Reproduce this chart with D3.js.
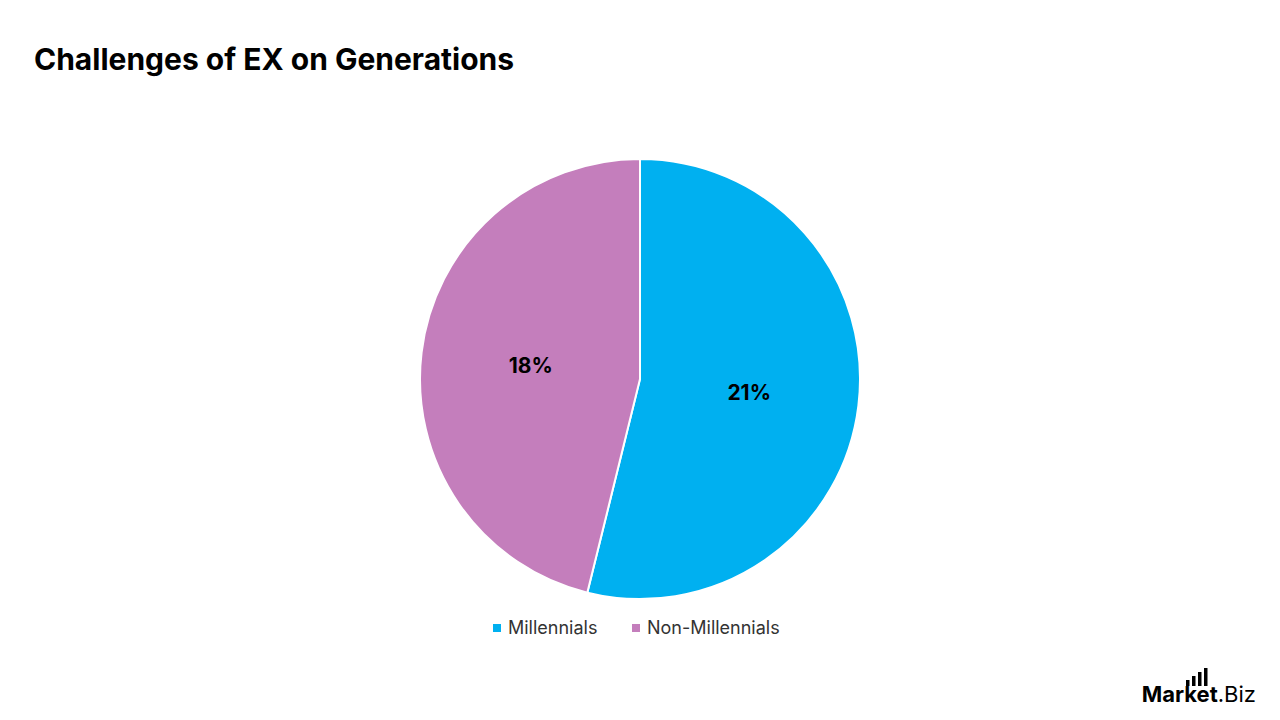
<!DOCTYPE html>
<html><head><meta charset="utf-8">
<script src="https://cdn.jsdelivr.net/npm/d3@7"></script>
<style>body{margin:0;background:#fff;font-family:Inter,"Open Sans",sans-serif}</style>
</head><body><svg id="c" width="1280" height="720"></svg>
<script>
var categories = ['Millennials', 'Non-Millennials'];
var values = [21, 18];
var colors = ['#00b0f0', '#c47ebc'];

var svg = d3.select('#c');
svg.append('text').attr('x', 34).attr('y', 70).attr('font-size', 30).attr('font-weight', 700)
  .attr('fill', '#000').text('Challenges of EX on Generations');

var cx = 640, cy = 379, r = 220;
var pie = d3.pie().sort(null)(values);
var arc = d3.arc().innerRadius(0).outerRadius(r);
var g = svg.append('g').attr('transform', 'translate(' + cx + ',' + cy + ')');
g.selectAll('path').data(pie).join('path')
  .attr('d', arc).attr('fill', function(d, i) { return colors[i]; })
  .attr('stroke', '#fff').attr('stroke-width', 2);
var total = d3.sum(values);
var labelArc = d3.arc().innerRadius(r * 0.5).outerRadius(r * 0.5);
g.selectAll('text').data(pie).join('text')
  .attr('transform', function(d) { return 'translate(' + labelArc.centroid(d) + ')'; })
  .attr('text-anchor', 'middle').attr('dy', '0.35em')
  .attr('font-size', 21).attr('font-weight', 700).attr('fill', '#000')
  .text(function(d) { return d.value + '%'; });

// legend
var lx = [493, 632];
var leg = svg.append('g').selectAll('g').data(categories).join('g')
  .attr('transform', function(d, i) { return 'translate(' + lx[i] + ',628)'; });
leg.append('rect').attr('x', 0).attr('y', -4).attr('width', 8).attr('height', 8)
  .attr('fill', function(d, i) { return colors[i]; });
leg.append('text').attr('x', 15).attr('dy', '0.35em').attr('font-size', 18).attr('fill', '#333')
  .text(function(d) { return d; });

// logo
var logo = svg.append('g');
logo.append('text').attr('x', 1256).attr('y', 702).attr('text-anchor', 'end')
  .attr('font-size', 22).attr('font-weight', 700).attr('fill', '#000')
  .html('Market<tspan font-weight="400">.Biz</tspan>');
[0, 1, 2, 3].forEach(function(i) {
  var h = 6 + i * 4;
  logo.append('rect').attr('x', 1186 + i * 6).attr('y', 686 - h).attr('width', 3.5).attr('height', h).attr('fill', '#000');
});
</script></body></html>
